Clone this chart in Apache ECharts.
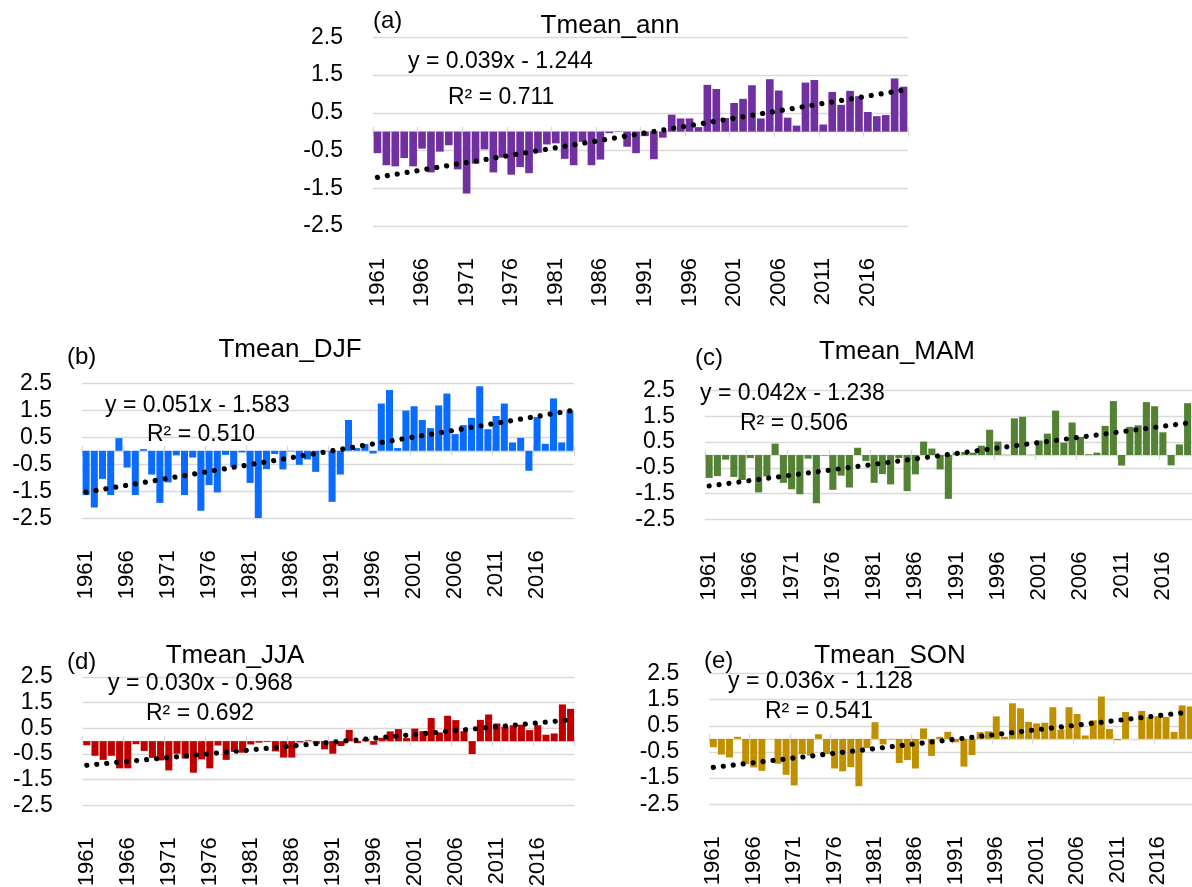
<!DOCTYPE html>
<html><head><meta charset="utf-8">
<script src="https://cdn.jsdelivr.net/npm/echarts@6/dist/echarts.min.js"></script>
<style>html,body{margin:0;padding:0;background:#fff}#c{width:1192px;height:887px}</style>
</head><body><div id="c"></div>
<script>
// ---------- DATA ----------
const years = ['1961','1962','1963','1964','1965','1966','1967','1968','1969','1970',
  '1971','1972','1973','1974','1975','1976','1977','1978','1979','1980',
  '1981','1982','1983','1984','1985','1986','1987','1988','1989','1990',
  '1991','1992','1993','1994','1995','1996','1997','1998','1999','2000',
  '2001','2002','2003','2004','2005','2006','2007','2008','2009','2010',
  '2011','2012','2013','2014','2015','2016','2017','2018','2019','2020'];
const yTickValues = [-2.5, -1.5, -0.5, 0.5, 1.5, 2.5];
const panelIds = ['(a)', '(b)', '(c)', '(d)', '(e)'];
const panelTitles = ['Tmean_ann', 'Tmean_DJF', 'Tmean_MAM', 'Tmean_JJA', 'Tmean_SON'];
const equationLabels = ['y = 0.039x - 1.244', 'y = 0.051x - 1.583', 'y = 0.042x - 1.238', 'y = 0.030x - 0.968', 'y = 0.036x - 1.128'];
const r2Labels = ['R\u00b2 = 0.711', 'R\u00b2 = 0.510', 'R\u00b2 = 0.506', 'R\u00b2 = 0.692', 'R\u00b2 = 0.541'];

const annValues = [-0.57,-0.89,-0.92,-0.70,-0.92,-0.45,-1.08,-0.53,-0.36,-1.00,
  -1.64,-0.85,-0.47,-1.08,-0.69,-1.14,-0.94,-1.10,-0.56,-0.34,
  -0.31,-0.72,-0.89,-0.27,-0.89,-0.74,-0.04,-0.01,-0.40,-0.57,
  -0.12,-0.73,-0.16,0.45,0.35,0.35,0.12,1.24,1.13,0.36,
  0.76,0.87,1.23,0.35,1.39,1.09,0.37,0.16,1.30,1.37,
  0.19,1.05,0.71,1.08,0.94,0.52,0.41,0.44,1.41,1.19];
const djfValues = [-1.64,-2.10,-1.04,-1.64,0.47,-0.62,-1.64,0.06,-0.88,-1.93,
  -1.17,-0.17,-1.64,-0.25,-2.22,-1.27,-1.54,-0.15,-0.60,-0.06,
  -1.19,-2.49,-0.68,-0.12,-0.69,-0.02,-0.52,-0.32,-0.78,-0.02,
  -1.89,-0.88,1.14,0.10,0.25,-0.10,1.75,2.25,0.10,1.49,
  1.65,1.14,0.84,1.68,2.12,0.62,0.95,1.22,2.39,0.80,
  1.29,1.75,0.31,0.48,-0.74,1.25,0.26,1.94,0.31,1.47];
const mamValues = [-0.89,-0.82,-0.18,-0.85,-0.97,-0.12,-1.45,-0.83,0.44,-1.08,
  -1.33,-1.52,-0.14,-1.87,-0.02,-1.35,-0.80,-1.26,0.28,-0.23,
  -1.08,-0.74,-1.14,-0.12,-1.40,-0.75,0.52,0.25,-0.56,-1.70,
  0.10,0.12,0.09,0.36,0.98,0.52,0.01,1.42,1.48,0.01,
  0.56,0.83,1.72,0.48,1.26,0.70,0.03,0.09,1.13,2.09,
  -0.41,1.09,1.15,2.05,1.89,0.88,-0.40,0.41,2.01,1.20];
const jjaValues = [-0.16,-0.57,-0.73,-0.57,-1.06,-1.06,-0.12,-0.38,-0.65,-0.75,
  -1.14,-0.49,-0.68,-1.23,-0.71,-1.06,-0.17,-0.73,-0.42,-0.45,
  -0.13,-0.06,-0.03,-0.40,-0.64,-0.64,-0.05,0.03,-0.10,-0.32,
  -0.49,-0.19,0.44,-0.08,0.08,-0.14,0.13,0.38,0.47,0.12,
  0.49,0.39,0.90,0.34,0.99,0.82,0.39,-0.50,0.83,1.04,
  0.69,0.56,0.62,0.64,0.43,0.62,0.25,0.30,1.43,1.26];
const sonValues = [-0.32,-0.60,-0.71,0.08,-0.96,-1.09,-1.22,0.00,-0.95,-1.37,
  -1.78,-0.58,-0.64,0.18,-0.58,-1.13,-1.24,-1.08,-1.81,-0.35,
  0.64,-0.21,-0.02,-0.92,-0.81,-1.13,0.40,-0.65,0.08,0.27,
  -0.13,-1.06,-0.62,0.26,0.29,0.86,0.08,1.36,1.17,0.65,
  0.59,0.62,1.21,0.36,1.21,0.95,0.13,0.71,1.62,0.38,
  -0.05,1.03,0.00,1.07,0.83,0.87,0.84,0.27,1.28,1.24];
// linear trend line end points (first and last year)
const trendStart = [-1.21, -1.53, -1.20, -0.94, -1.09];
const trendEnd = [1.10, 1.48, 1.28, 0.83, 1.03];

// ---------- LAYOUT / STYLE ----------
const seriesValues = [annValues, djfValues, mamValues, jjaValues, sonValues];
const barColors = ['#7030A0', '#0A6CFF', '#548235', '#C00000', '#BF9000'];
const grids = [
  {left: 373, top: 37.3, width: 535, height: 188.7},
  {left: 82, top: 383.3, width: 492, height: 135},
  {left: 705, top: 390.5, width: 495, height: 129},
  {left: 82.7, top: 677, width: 492, height: 128.3},
  {left: 709.3, top: 673.5, width: 485, height: 130.8}
];
const idPos = [[373, 21], [67, 357], [695, 358], [67, 662], [704, 661]];
const titlePos = [[610, 26], [290, 350], [897, 352], [235, 656], [890, 656]];
const eqPos = [[408, 62], [105, 406], [700, 393.5], [108, 684], [728, 682]];
const r2Pos = [[448, 98], [147, 435], [740, 424], [146, 713.5], [765, 712]];

const FONT = '"Liberation Sans", Arial, sans-serif';
const GRID_COLOR = '#d9d9d9';
const option = {
  backgroundColor: '#ffffff',
  animation: false,
  grid: [], xAxis: [], yAxis: [], series: [], graphic: []
};

seriesValues.forEach((vals, i) => {
  const g = grids[i];
  option.grid.push({left: g.left, top: g.top, width: g.width, height: g.height,
    containLabel: false, outerBoundsMode: 'none'});
  // label axis at the bottom of the plot
  option.xAxis.push({
    type: 'category', gridIndex: i, data: years, position: 'bottom',
    axisLine: {show: false, onZero: false}, axisTick: {show: false},
    splitLine: {show: false},
    axisLabel: {interval: 4, rotate: 90, margin: 32, fontSize: 22, fontFamily: FONT, color: '#000'}
  });
  // zero line with downward ticks
  option.xAxis.push({
    type: 'category', gridIndex: i, data: years, position: 'bottom',
    axisLine: {show: true, onZero: true, onZeroAxisIndex: i, lineStyle: {color: GRID_COLOR, width: 1.3}},
    axisTick: {show: true, interval: 4, length: 5, lineStyle: {color: GRID_COLOR, width: 1.3}},
    axisLabel: {show: false}, splitLine: {show: false}
  });
  // zero line upward ticks
  option.xAxis.push({
    type: 'category', gridIndex: i, data: years, position: 'bottom',
    axisLine: {show: false, onZero: true, onZeroAxisIndex: i},
    axisTick: {show: true, inside: true, interval: 4, length: 5, lineStyle: {color: GRID_COLOR, width: 1.3}},
    axisLabel: {show: false}, splitLine: {show: false}
  });
  option.yAxis.push({
    type: 'value', gridIndex: i, min: -2.5, max: 2.5,
    axisLine: {show: false},
    axisTick: {show: false, customValues: yTickValues},
    axisLabel: {customValues: yTickValues, margin: 30, fontSize: 23, fontFamily: FONT, color: '#000',
      formatter: v => String(v)},
    splitLine: {show: true, lineStyle: {color: GRID_COLOR, width: 1.3}}
  });
  option.series.push({
    type: 'bar', xAxisIndex: i * 3, yAxisIndex: i, data: vals,
    barCategoryGap: '14%', itemStyle: {color: barColors[i]}, silent: true
  });
  option.series.push({
    type: 'line', xAxisIndex: i * 3, yAxisIndex: i,
    data: [[0, trendStart[i]], [years.length - 1, trendEnd[i]]],
    symbol: 'none', silent: true, z: 5,
    lineStyle: {color: '#000', width: 5.2, type: [0.01, 10], cap: 'round'}
  });
  const txt = (x, y, text, size, align) => ({
    type: 'text', x: x, y: y, z: 100,
    style: {text: text, font: size + 'px ' + FONT, fill: '#000',
      align: align, verticalAlign: 'middle', textAlign: align, textVerticalAlign: 'middle'}
  });
  option.graphic.push(txt(idPos[i][0], idPos[i][1], panelIds[i], 24, 'left'));
  option.graphic.push(txt(titlePos[i][0], titlePos[i][1], panelTitles[i], 26, 'center'));
  option.graphic.push(txt(eqPos[i][0], eqPos[i][1], equationLabels[i], 23, 'left'));
  option.graphic.push(txt(r2Pos[i][0], r2Pos[i][1], r2Labels[i], 23, 'left'));
});

const chart = echarts.init(document.getElementById('c'), null, {renderer: 'canvas'});
chart.setOption(option);
</script>
</body></html>
